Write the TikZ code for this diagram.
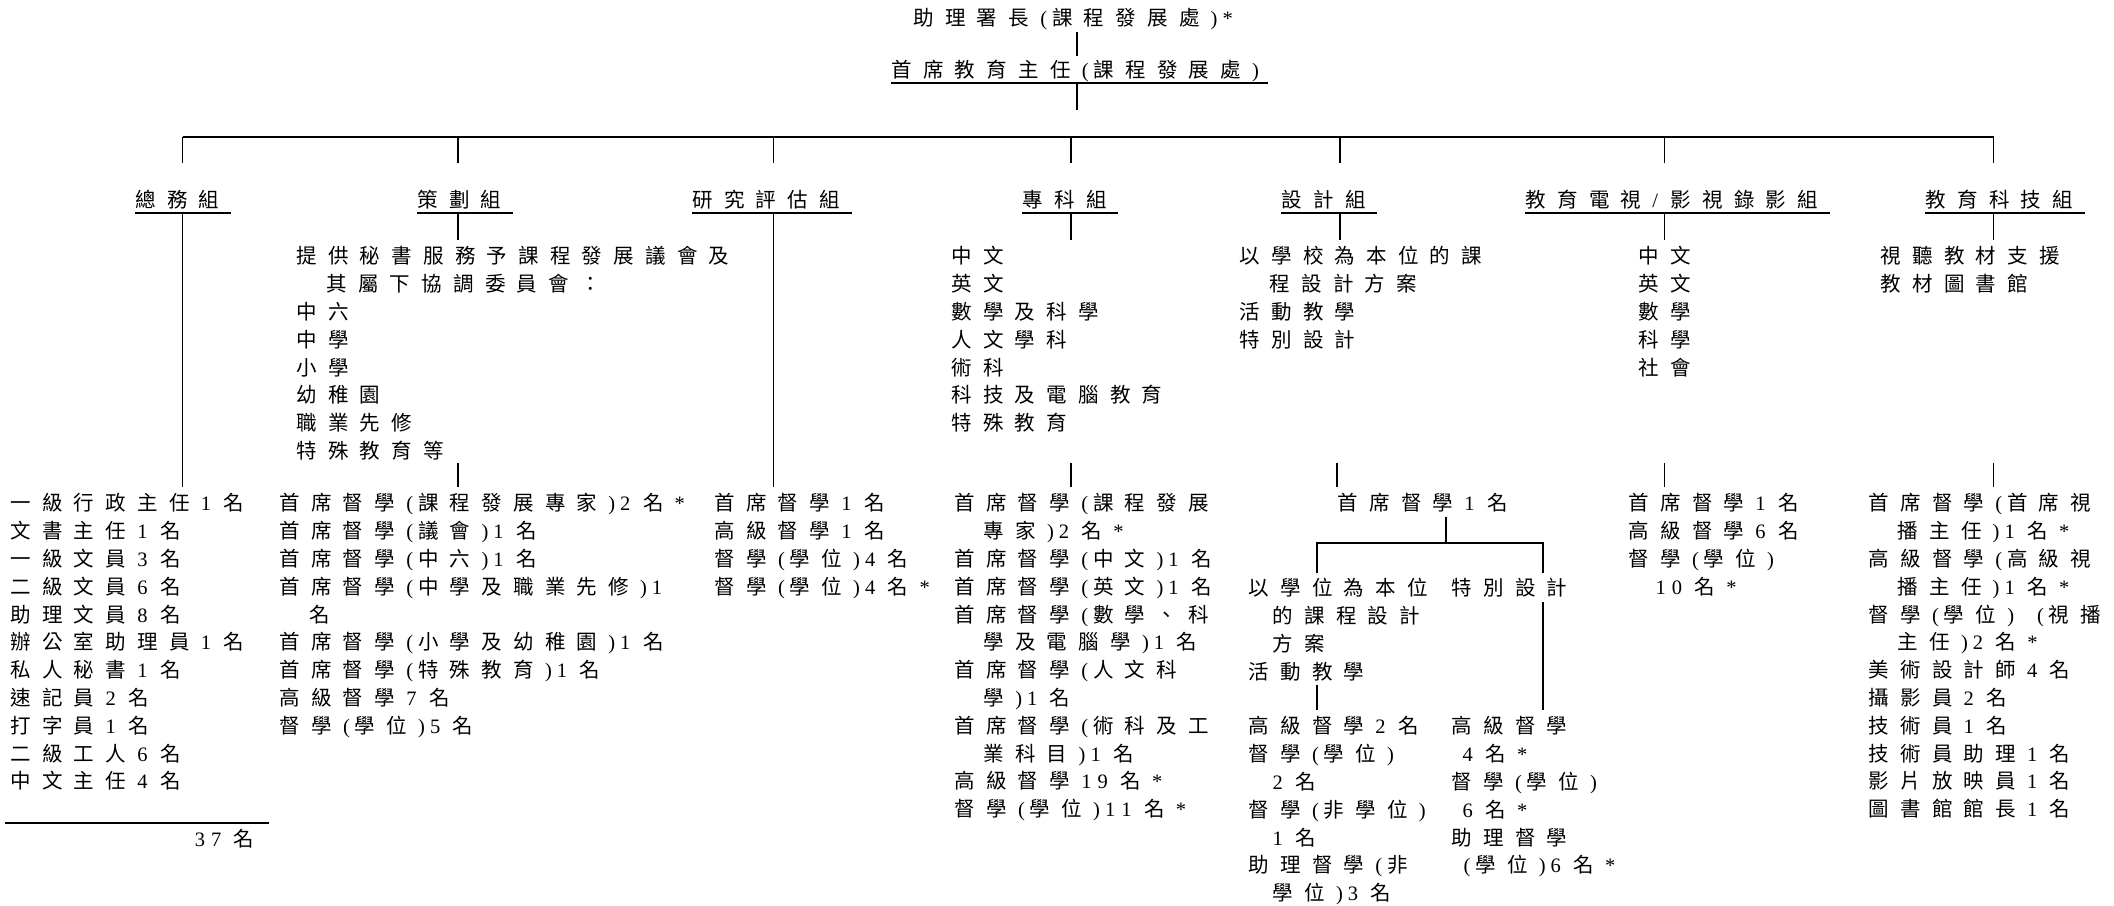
\documentclass[tikz,border=0pt]{standalone}
\usepackage{fontspec}
\usepackage{tikz}
\setmainfont{Noto Sans CJK TC}
\newfontfamily\cjbody{Noto Sans CJK TC}
\newfontfamily\latbody{Liberation Serif}
% spacing between characters and serif digits
\XeTeXinterchartokenstate=1
\newXeTeXintercharclass\cjcls
\newXeTeXintercharclass\dgcls
\newXeTeXintercharclass\pacls
\newcount\chcnt
\chcnt="4E00
\loop \XeTeXcharclass\chcnt=\cjcls \advance\chcnt by 1 \ifnum\chcnt<"A000 \repeat
\chcnt="3000
\loop \XeTeXcharclass\chcnt=\cjcls \advance\chcnt by 1 \ifnum\chcnt<"3040 \repeat
\chcnt="FF00
\loop \XeTeXcharclass\chcnt=\cjcls \advance\chcnt by 1 \ifnum\chcnt<"FFF0 \repeat
\XeTeXcharclass`\0=\dgcls \XeTeXcharclass`\1=\dgcls \XeTeXcharclass`\2=\dgcls
\XeTeXcharclass`\3=\dgcls \XeTeXcharclass`\4=\dgcls \XeTeXcharclass`\5=\dgcls
\XeTeXcharclass`\6=\dgcls \XeTeXcharclass`\7=\dgcls \XeTeXcharclass`\8=\dgcls
\XeTeXcharclass`\9=\dgcls \XeTeXcharclass`\*=\dgcls \XeTeXcharclass`\/=\dgcls
\XeTeXcharclass`\(=\pacls \XeTeXcharclass`\)=\pacls
\newcommand\cjgap{11.2pt}
\newcommand\dggap{6pt}
\newcommand\dcgap{12.5pt}
\newcommand\pagap{5pt}
\XeTeXinterchartoks \cjcls \cjcls={\kern\cjgap}
\XeTeXinterchartoks \cjcls \dgcls={\kern\cjgap\latbody}
\XeTeXinterchartoks \cjcls \pacls={\kern\cjgap\latbody}
\XeTeXinterchartoks \dgcls \dgcls={\kern\dggap}
\XeTeXinterchartoks \dgcls \cjcls={\kern\dcgap\cjbody}
\XeTeXinterchartoks \dgcls \pacls={\kern\dggap}
\XeTeXinterchartoks \pacls \cjcls={\kern\pagap\cjbody}
\XeTeXinterchartoks \pacls \dgcls={\kern\pagap}
\XeTeXinterchartoks \pacls \pacls={\kern\pagap}
\XeTeXinterchartoks 4095 \cjcls={\cjbody}
\XeTeXinterchartoks 4095 \dgcls={\latbody}
\XeTeXinterchartoks 4095 \pacls={\latbody}
\newcommand\txtfont{\fontsize{20.5}{27.8}\cjbody}
\newcommand\ind[1][29pt]{\hspace*{#1}}

\begin{document}
\begin{tikzpicture}[line width=1.2pt, txt/.style={inner sep=0pt, anchor=north west, align=left, font=\txtfont}, ttl/.style={inner sep=0pt, anchor=base west, font=\txtfont}, ul/.style={line width=1.8pt}]
\useasboundingbox (0pt, 0pt) rectangle (2114pt, -905pt);
\draw (913.0pt, -25.8pt)node[ttl](0){助理署長(課程發展處)*};
\draw (891.0pt, -77.8pt)node[ttl](1){首席教育主任(課程發展處)};
\draw (135.0pt, -207.8pt)node[ttl](10){總務組};
\draw (417.0pt, -207.8pt)node[ttl](11){策劃組};
\draw (692.0pt, -207.8pt)node[ttl](12){研究評估組};
\draw (1022.0pt, -207.8pt)node[ttl](13){專科組};
\draw (1281.0pt, -207.8pt)node[ttl](14){設計組};
\draw (1525.0pt, -207.8pt)node[ttl](15){教育電視/影視錄影組};
\draw (1925.0pt, -207.8pt)node[ttl](16){教育科技組};
\coordinate (b1) at (182.5pt, -137.0pt);
\coordinate (b2) at (458.0pt, -137.0pt);
\coordinate (b3) at (773.5pt, -137.0pt);
\coordinate (b4) at (1071.0pt, -137.0pt);
\coordinate (b5) at (1340.0pt, -137.0pt);
\coordinate (b6) at (1664.5pt, -137.0pt);
\coordinate (b7) at (1993.5pt, -137.0pt);

% what each section does
\draw (296.0pt, -246.0pt)node[txt](21){提供秘書服務予課程發展議會及\\
\ind[30pt]其屬下協調委員會：\\中六\\中學\\小學\\幼稚園\\職業先修\\特殊教育等};
\draw (951.0pt, -246.0pt)node[txt](23){中文\\英文\\數學及科學\\人文學科\\術科\\科技及電腦教育\\特殊教育};
\draw (1239.0pt, -246.0pt)node[txt](24){以學校為本位的課\\\ind[30pt]程設計方案\\活動教學\\特別設計};
\draw (1638.0pt, -246.0pt)node[txt](25){中文\\英文\\數學\\科學\\社會};
\draw (1880.0pt, -246.0pt)node[txt](26){視聽教材支援\\教材圖書館};

% staff
\draw (10.0pt, -493.0pt)node[txt](30){一級行政主任1名\\文書主任1名\\一級文員3名\\二級文員6名\\助理文員8名\\
辦公室助理員1名\\私人秘書1名\\速記員2名\\打字員1名\\二級工人6名\\中文主任4名};
\draw (279.0pt, -493.0pt)node[txt](31){首席督學(課程發展專家)2名*\\首席督學(議會)1名\\首席督學(中六)1名\\
首席督學(中學及職業先修)1\\\ind[30pt]名\\首席督學(小學及幼稚園)1名\\首席督學(特殊教育)1名\\高級督學7名\\督學(學位)5名};
\draw (714.0pt, -493.0pt)node[txt](32){首席督學1名\\高級督學1名\\督學(學位)4名\\督學(學位)4名*};
\draw (954.0pt, -493.0pt)node[txt](33){首席督學(課程發展\\\ind 專家)2名*\\首席督學(中文)1名\\首席督學(英文)1名\\
首席督學(數學、科\\\ind 學及電腦學)1名\\首席督學(人文科\\\ind 學)1名\\首席督學(術科及工\\\ind 業科目)1名\\
高級督學19名*\\督學(學位)11名*};
\draw (1337.0pt, -493.0pt)node[txt](34){首席督學1名};
\draw (1628.0pt, -493.0pt)node[txt](35){首席督學1名\\高級督學6名\\督學(學位)\\\ind[27pt]10名*};
\draw (1868.0pt, -493.0pt)node[txt](36){首席督學(首席視\\\ind 播主任)1名*\\高級督學(高級視\\\ind 播主任)1名*\\
督學(學位)\hspace{23pt}(視播\\\ind 主任)2名*\\美術設計師4名\\攝影員2名\\技術員1名\\技術員助理1名\\影片放映員1名\\圖書館館長1名};
\draw (255.0pt, -829.0pt)node[txt, anchor=north east](40){37名};
\coordinate (r) at (5.0pt, -823.0pt);

% design section below its head
\coordinate (s0) at (1446.0pt, -543.0pt);
\coordinate (s1) at (1317.0pt, -543.0pt);
\coordinate (s2) at (1543.0pt, -543.0pt);
\draw (1248.0pt, -578.0pt)node[txt](42){以學位為本位\\\ind[24pt]的課程設計\\\ind[24pt]方案\\活動教學};
\draw (1451.0pt, -578.0pt)node[txt](43){特別設計};
\draw (1248.0pt, -716.0pt)node[txt](44){高級督學2名\\督學(學位)\\\ind[24pt]2名\\督學(非學位)\\\ind[24pt]1名\\
助理督學(非\\\ind[24pt]學位)3名};
\draw (1451.0pt, -716.0pt)node[txt](45){高級督學\\\ind[11pt]4名*\\督學(學位)\\\ind[11pt]6名*\\助理督學\\\ind[12pt](學位)6名*};

% underlines
\draw[ul] ([yshift=-5pt]1.base west) -- ([xshift=8pt, yshift=-5pt]1.base east);
\draw[ul] ([yshift=-5pt]10.base west) -- ([xshift=11pt, yshift=-5pt]10.base east);
\draw[ul] ([yshift=-5pt]11.base west) -- ([xshift=11pt, yshift=-5pt]11.base east);
\draw[ul] ([yshift=-5pt]12.base west) -- ([xshift=11pt, yshift=-5pt]12.base east);
\draw[ul] ([yshift=-5pt]13.base west) -- ([xshift=11pt, yshift=-5pt]13.base east);
\draw[ul] ([yshift=-5pt]14.base west) -- ([xshift=11pt, yshift=-5pt]14.base east);
\draw[ul] ([yshift=-5pt]15.base west) -- ([xshift=11pt, yshift=-5pt]15.base east);
\draw[ul] ([yshift=-5pt]16.base west) -- ([xshift=11pt, yshift=-5pt]16.base east);
\draw[ul] (r) -- ++(264pt, 0pt);

% lines
\draw ([yshift=-6pt]0.base -| b4) ++(6pt, 0pt) -- ([xshift=6pt, yshift=4pt]b4 |- 1.north);
\draw ([xshift=6pt, yshift=-5pt]b4 |- 1.base) -- ++(0pt, -27pt);
\draw[ul] (b1) -- (b7);
\draw (b1) -- ++(0pt, -26pt);
\draw (b2) -- ++(0pt, -26pt);
\draw (b3) -- ++(0pt, -26pt);
\draw (b4) -- ++(0pt, -26pt);
\draw (b5) -- ++(0pt, -26pt);
\draw (b6) -- ++(0pt, -26pt);
\draw (b7) -- ++(0pt, -26pt);
\draw ([yshift=-5pt]b1 |- 10.base) -- ([yshift=6pt]b1 |- 30.north);
\draw ([yshift=-5pt]b2 |- 11.base) -- ([yshift=6pt]b2 |- 21.north);
\draw ([yshift=-5pt]b3 |- 12.base) -- ([yshift=6pt]b3 |- 32.north);
\draw ([yshift=-5pt]b4 |- 13.base) -- ([yshift=6pt]b4 |- 23.north);
\draw ([yshift=-5pt]b5 |- 14.base) -- ([yshift=6pt]b5 |- 24.north);
\draw ([yshift=-5pt]b6 |- 15.base) -- ([yshift=6pt]b6 |- 25.north);
\draw ([yshift=-5pt]b7 |- 16.base) -- ([yshift=6pt]b7 |- 26.north);
\draw ([yshift=6pt]b2 |- 31.north) -- ++(0pt, 24pt);
\draw ([yshift=6pt]b4 |- 33.north) -- ++(0pt, 24pt);
\draw ([yshift=6pt]34.north west) -- ++(0pt, 24pt);
\draw ([yshift=6pt]b6 |- 35.north) -- ++(0pt, 24pt);
\draw ([yshift=6pt]b7 |- 36.north) -- ++(0pt, 24pt);
\draw ([yshift=-4pt]s0 |- 34.south) -- (s0);
\draw ([yshift=5pt]s1 |- 42.north) |- (s2) -- ([yshift=5pt]s2 |- 43.north);
\draw ([yshift=-3pt]s1 |- 42.south) -- ([yshift=6pt]s1 |- 44.north);
\draw ([yshift=-4pt]s2 |- 43.south) -- ([yshift=6pt]s2 |- 45.north);
\end{tikzpicture}
\end{document}
